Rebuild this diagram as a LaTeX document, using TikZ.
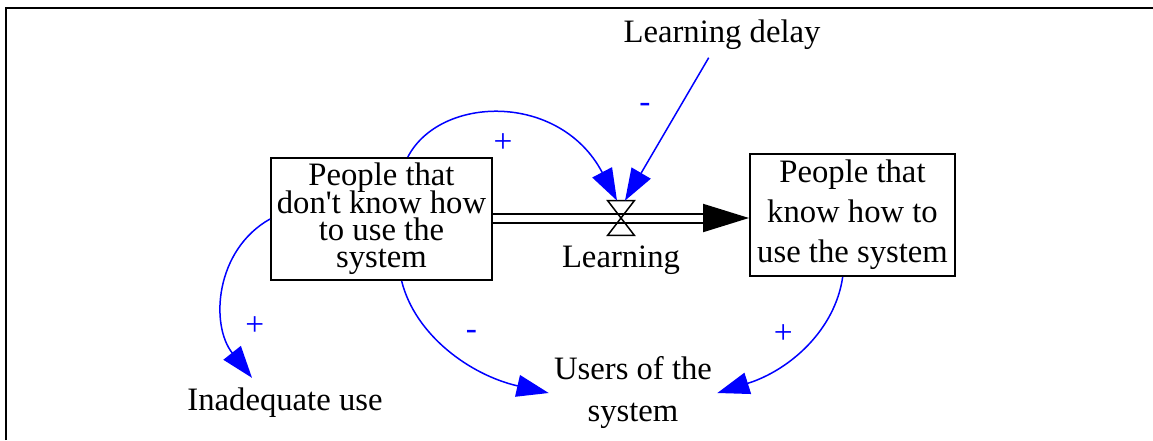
\documentclass[tikz,border=0pt]{standalone}
\usepackage{fontspec}
\setmainfont{Liberation Serif}
\usepackage{tikz}
\usetikzlibrary{arrows.meta, positioning, calc}

\begin{document}
\begin{tikzpicture}[
        x=0.02cm, y=-0.02cm,
        stock/.style={
            rectangle,
            draw,
            line width=0.04cm,
            inner sep=0pt,
            minimum height=2.44cm,
            align=center
        },
        aux/.style={
            inner sep=0pt,
            align=center,
            font=\fontsize{18.6}{23.9}\selectfont
        },
        link/.style={
            draw=blue,
            line width=0.03cm,
            -{Triangle[length=0.64cm, width=0.44cm]}
        },
        pipe/.style={
            double,
            double distance=0.14cm,
            line width=0.04cm,
            -{Triangle[length=0.92cm, width=0.56cm]}
        },
        pol/.style={
            text=blue,
            inner sep=1pt,
            font=\fontsize{19}{19}\selectfont
        }
    ]
        \useasboundingbox (0,0) rectangle (1153,440);

        % --- FRAME ---
        \draw[line width=0.055cm] (6,440) -- (6,8) -- (1153,8);

        % --- STOCKS ---
        \node[stock, minimum width=4.42cm,
              font={\fontsize{18.6}{15.5}\selectfont\lineskiplimit=-30pt}]
            (unskilled) at (381.5,219) {People that\\don\textquotesingle t know how\\to use the\\system};
        \node[stock, minimum width=4.1cm,
              font={\fontsize{18.6}{22.8}\selectfont}]
            (skilled) at (852.5,215) {People that\\know how to\\use the system};

        % --- FLOW VALVE ---
        \node[minimum width=0.52cm, minimum height=0.68cm, inner sep=0pt] (valve) at (621,218) {};
        \node[aux] (learning) at (621,260) {Learning};

        % --- AUXILIARIES ---
        \node[aux, inner ysep=0.15cm] (delay) at (722,35) {Learning delay};
        \node[aux, inner ysep=0.2cm] (misuse) at (285,403) {Inadequate use};
        \node[aux, inner xsep=0.1cm] (users) at (633,393) {Users of the\\system};

        % --- PIPE ---
        \draw[pipe] (valve -| unskilled.east) -- (valve -| skilled.west);
        \draw[line width=0.03cm] (valve.north west) -- (valve.north east)
            -- (valve.south west) -- (valve.south east) -- cycle;

        % --- CAUSAL LINKS ---
        \draw[link] (delay) -- node[pos=0.35, left=15pt, pol] {-} ([xshift=0.08cm]valve.north);
        \draw[link] (unskilled.67) .. controls (440,95) and (560,92) ..
            node[midway, below=9pt, pol] {+} ([xshift=-0.08cm]valve.north);
        \draw[link] (unskilled.west) .. controls (215,250) and (210,325) ..
            node[pos=0.7, right=9pt, pol] {+} ([xshift=-0.66cm]misuse.north);
        \draw[link] (unskilled.-72) .. controls (415,335) and (470,375) ..
            node[pos=0.37, right=17.5pt, pol] {-} (users.west);
        \draw[link] (skilled.-99) .. controls (835,330) and (790,370) ..
            node[pos=0.4, left=12pt, pol] {+} (users.east);

    \end{tikzpicture}
\end{document}
